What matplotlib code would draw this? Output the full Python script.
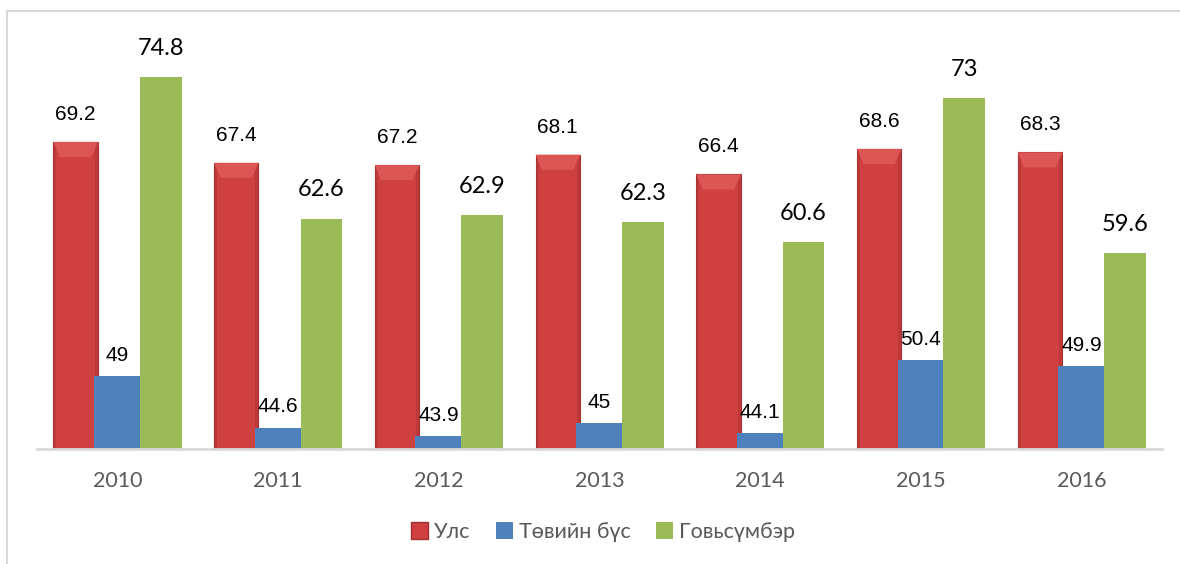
import matplotlib
matplotlib.use("Agg")
import matplotlib.pyplot as plt
import numpy as np
from matplotlib.patches import Polygon, Patch
from matplotlib.lines import Line2D

years = ["2010", "2011", "2012", "2013", "2014", "2015", "2016"]
uls = [69.2, 67.4, 67.2, 68.1, 66.4, 68.6, 68.3]
tuv = [49, 44.6, 43.9, 45, 44.1, 50.4, 49.9]
govi = [74.8, 62.6, 62.9, 62.3, 60.6, 73, 59.6]
series_names = ["Улс", "Төвийн бүс", "Говьсүмбэр"]

RED, BLUE, GREEN = "#cf4040", "#4f81bd", "#9bbb59"
GRAY = "#595959"
CAL = ["Lato", "Noto Sans", "DejaVu Sans"]
ARIAL = ["Liberation Sans", "DejaVu Sans"]

YMIN, YMAX = 42.75, 79.7

fig = plt.figure(figsize=(11.8, 5.64), dpi=100)
ax = fig.add_axes([37 / 1180, 1 - 449 / 564, 1125 / 1180, 429 / 564])
x = np.arange(len(years))

b_red = ax.bar(x - 0.26, [v - YMIN for v in uls], 0.275, bottom=YMIN,
               color=RED, edgecolor="#a83232", linewidth=0.8, zorder=2)
b_blue = ax.bar(x, [v - YMIN for v in tuv], 0.29, bottom=YMIN,
                color=BLUE, zorder=3)
b_green = ax.bar(x + 0.27, [v - YMIN for v in govi], 0.26, bottom=YMIN,
                 color=GREEN, zorder=3)

# soft bevel look on the red bars
for r in b_red:
    x0, w, top = r.get_x(), r.get_width(), r.get_y() + r.get_height()
    d = 0.04
    cap = Polygon([(x0, top), (x0 + w, top), (x0 + w - d, top - 1.3),
                   (x0 + d, top - 1.3)], closed=True, facecolor="#dc5656",
                  edgecolor="none", zorder=2.5)
    ax.add_patch(cap)
    for xs in [(x0, x0 + 0.018), (x0 + w - 0.018, x0 + w)]:
        ax.fill_between(xs, YMIN, top - 0.3, color="#a83232", alpha=0.45,
                        linewidth=0, zorder=2.4)

for r, v in zip(b_red, uls):
    ax.annotate(f"{v:g}", (r.get_x() + r.get_width() / 2, v), xytext=(0, 13),
                textcoords="offset points", ha="center", va="bottom",
                fontsize=15, family=ARIAL, color="black")
for r, v in zip(b_blue, tuv):
    ax.annotate(f"{v:g}", (r.get_x() + r.get_width() / 2, v), xytext=(0, 8),
                textcoords="offset points", ha="center", va="bottom",
                fontsize=15, family=ARIAL, color="black", zorder=4)
for r, v in zip(b_green, govi):
    ax.annotate(f"{v:g}", (r.get_x() + r.get_width() / 2, v), xytext=(0, 13),
                textcoords="offset points", ha="center", va="bottom",
                fontsize=17, family=CAL, color="black")

ax.set_xlim(-0.5, 6.5)
ax.set_ylim(YMIN, YMAX)
ax.set_xticks(x)
ax.set_xticklabels(years, fontsize=15.5, family=CAL, color=GRAY)
ax.tick_params(axis="x", length=0, pad=16)
ax.set_yticks([])
for s in ["top", "right", "left"]:
    ax.spines[s].set_visible(False)
ax.spines["bottom"].set_color("#d9d9d9")
ax.spines["bottom"].set_linewidth(2)
ax.spines["bottom"].set_zorder(5)

handles = [Patch(facecolor=RED, edgecolor="#a33030"),
           Patch(facecolor=BLUE),
           Patch(facecolor=GREEN)]
fig.legend(handles, series_names, loc="center", bbox_to_anchor=(603 / 1180, 1 - 532 / 564),
           ncol=3, frameon=False, handlelength=0.8, handleheight=0.8,
           handletextpad=0.25, columnspacing=1.2,
           prop={"family": CAL, "size": 15.5}, labelcolor=GRAY)

# outer frame lines (top and left only)
fig.add_artist(Line2D([7 / 1180, 1], [1 - 11 / 564] * 2, color="#d9d9d9", lw=1.5))
fig.add_artist(Line2D([7 / 1180] * 2, [0, 1 - 11 / 564], color="#d9d9d9", lw=1.5))

fig.savefig("out.png", dpi=100, facecolor="white")
